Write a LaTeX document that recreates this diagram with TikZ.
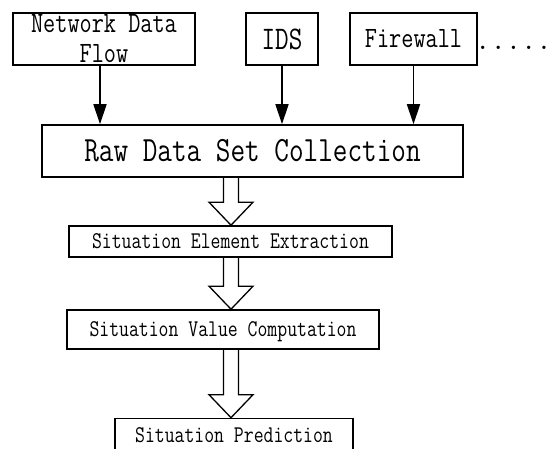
\documentclass[tikz,border=0pt]{standalone}
\usepackage{fontspec}
\newfontfamily\boxfont[FakeStretch=0.8]{Latin Modern Mono}
\newfontfamily\dotfont{Latin Modern Mono}
\usetikzlibrary{arrows.meta,calc}

\begin{document}
\begin{tikzpicture}[x=1pt,y=-1pt,
  box/.style={draw,line width=1.6pt,inner sep=0pt},
  feed/.style={line width=1.6pt,-{Triangle[width=13pt,length=20pt]}},
  hollow/.style={line width=1.3pt,line join=miter}]
\useasboundingbox (0,0) rectangle (557,448);

\node[box,minimum width=182pt,minimum height=52pt,align=center,font=\boxfont\fontsize{29.5}{30}\selectfont] (ndf) at (104,39) {Network Data\\Flow};
\node[box,minimum width=72pt,minimum height=52pt,text height=20pt,text depth=0pt,font=\boxfont\fontsize{33}{33}\selectfont] (ids) at (282,39) {IDS};
\node[box,minimum width=127pt,minimum height=52pt,text height=17pt,text depth=0pt,font=\boxfont\fontsize{29.5}{29.5}\selectfont] (fw) at (413.5,39) {Firewall};
\node[anchor=base west,inner sep=0pt,font=\dotfont\fontsize{29.7}{29.7}\selectfont] (more) at (475,49) {.....};

\node[box,minimum width=421pt,minimum height=52pt,text height=20pt,text depth=0pt,font=\boxfont\fontsize{35.5}{35.5}\selectfont] (raw) at (252.5,151) {Raw Data Set Collection};
\node[box,minimum width=323pt,minimum height=31pt,text height=14pt,text depth=0pt,font=\boxfont\fontsize{24}{24}\selectfont] (see) at (230.5,241.5) {Situation Element Extraction};
\node[box,minimum width=312pt,minimum height=39pt,text height=14pt,text depth=0pt,font=\boxfont\fontsize{24}{24}\selectfont] (svc) at (223,329.5) {Situation Value Computation};
\node[box,minimum width=238pt,minimum height=33pt,text height=14pt,text depth=0pt,font=\boxfont\fontsize{24}{24}\selectfont] (sp) at (234,435) {Situation Prediction};

\draw[feed] ([xshift=-4pt]ndf.south) -- ([xshift=-4pt]ndf.south |- raw.north);
\draw[feed] (ids.south) -- (ids.south |- raw.north);
\draw[feed] (fw.south) -- (fw.south |- raw.north);

\coordinate (axis) at (231,0);
\foreach \a/\b in {raw/see,see/svc,svc/sp}
  \draw[hollow] let \p1=(axis |- \a.south), \p2=(axis |- \b.north) in
    (\x1-7.5pt,\y1) -- (\x1-7.5pt,\y2+23pt) -- (\x1-22pt,\y2+23pt) -- (\x2,\y2)
    -- (\x1+22pt,\y2+23pt) -- (\x1+7.5pt,\y2+23pt) -- (\x1+7.5pt,\y1);
\end{tikzpicture}
\end{document}
